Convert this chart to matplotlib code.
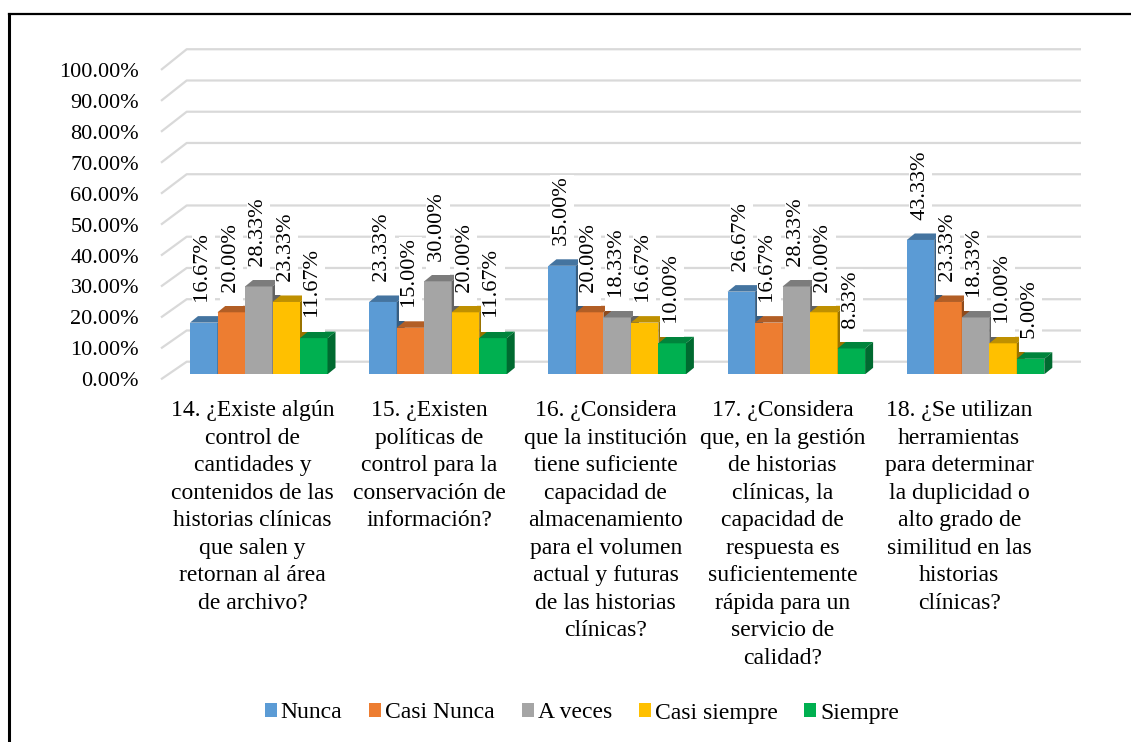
import matplotlib
matplotlib.use("Agg")
import matplotlib.pyplot as plt
from matplotlib.patches import Polygon, Patch
from matplotlib.lines import Line2D
from matplotlib.colors import to_rgb

plt.rcParams['font.family'] = ['Liberation Serif', 'DejaVu Serif']

# ---- data -------------------------------------------------------------
categories = [
    "14. ¿Existe algún\ncontrol de\ncantidades y\ncontenidos de las\nhistorias clínicas\nque salen y\nretornan al área\nde archivo?",
    "15. ¿Existen\npolíticas de\ncontrol para la\nconservación de\ninformación?",
    "16. ¿Considera\nque la institución\ntiene suficiente\ncapacidad de\nalmacenamiento\npara el volumen\nactual y futuras\nde las historias\nclínicas?",
    "17. ¿Considera\nque, en la gestión\nde historias\nclínicas, la\ncapacidad de\nrespuesta es\nsuficientemente\nrápida para un\nservicio de\ncalidad?",
    "18. ¿Se utilizan\nherramientas\npara determinar\nla duplicidad o\nalto grado de\nsimilitud en las\nhistorias\nclínicas?",
]
series_names = ["Nunca", "Casi Nunca", "A veces", "Casi siempre", "Siempre"]
nunca = [16.67, 23.33, 35.00, 26.67, 43.33]
casi_nunca = [20.00, 15.00, 20.00, 16.67, 23.33]
a_veces = [28.33, 30.00, 18.33, 28.33, 18.33]
casi_siempre = [23.33, 20.00, 16.67, 20.00, 10.00]
siempre = [11.67, 11.67, 10.00, 8.33, 5.00]
y_ticks = [0, 10, 20, 30, 40, 50, 60, 70, 80, 90, 100]
colors = ["#5B9BD5", "#ED7D31", "#A5A5A5", "#FFC000", "#00B050"]

series = [nunca, casi_nunca, a_veces, casi_siempre, siempre]


def shade(c, f):
    r, g, b = to_rgb(c)
    return (r * f, g * f, b * f)


# ---- figure / axes ----------------------------------------------------
W, H = 1131, 742
fig = plt.figure(figsize=(W / 100, H / 100), dpi=100)
fig.patch.set_facecolor("white")

# pixel geometry of the plot area
grp0_px, grp_step_px = 258.75, 179.2
base_px, px_per_pct = 374.3, 3.1
xlo, xhi = -0.6, 4.65
left_px = grp0_px + grp_step_px * xlo
right_px = grp0_px + grp_step_px * xhi
ax = fig.add_axes([left_px / W, (H - base_px) / H,
                   (right_px - left_px) / W, 100 * px_per_pct / H])
ax.set_xlim(xlo, xhi)
ax.set_ylim(0, 100)
ax.axis("off")

# 3-D depth offsets (data units)
dx = 8.0 / grp_step_px
dy = 6.5 / px_per_pct
bw = 27.5 / grp_step_px

# wall gridlines: short diagonal on the side wall + horizontal on the back wall
x_front = (161 - grp0_px) / grp_step_px
x_back = (186.7 - grp0_px) / grp_step_px
x_right = (1081 - grp0_px) / grp_step_px
for v in y_ticks:
    yf = v * 0.998 - 1.61
    yb = v * 1.008 + 4.06
    ax.plot([x_front, x_back, x_right], [yf, yb, yb], color="#D9D9D9",
            lw=1.6, clip_on=False, zorder=1, solid_capstyle="butt")
    ax.text((139 - grp0_px) / grp_step_px, yf, f"{v:.2f}%", ha="right",
            va="center_baseline", fontsize=16, color="black", clip_on=False)

# bars with top and side faces
n_cat = len(categories)
for i in range(n_cat):
    for k, vals in enumerate(series):
        v = vals[i]
        x0 = i - 2.5 * bw + k * bw
        z = 3 + 3 * k
        ax.bar(x0, v, width=bw, align="edge", color=colors[k], lw=0,
               zorder=z)
        top = Polygon([(x0, v), (x0 + dx, v + dy), (x0 + bw + dx, v + dy),
                       (x0 + bw, v)], closed=True, facecolor=shade(colors[k], 0.75),
                      lw=0, zorder=z + 1)
        side = Polygon([(x0 + bw, 0), (x0 + bw + dx, dy), (x0 + bw + dx, v + dy),
                        (x0 + bw, v)], closed=True, facecolor=shade(colors[k], 0.6),
                       lw=0, zorder=z + 2)
        ax.add_patch(top)
        ax.add_patch(side)
        ax.annotate(f"  {v:.2f}%", xy=(x0 + bw / 2, v), xytext=(0, 6.3),
                    textcoords="offset points", rotation=90, ha="center",
                    va="bottom", fontsize=16, color="black", zorder=40,
                    annotation_clip=False,
                    bbox=dict(boxstyle="square,pad=0.1", fc="white", ec="none"))

# category labels under each group
for i, lab in enumerate(categories):
    ax.text(i * 0.986 - 0.035, (base_px - 400) / px_per_pct, lab, ha="center",
            va="top", multialignment="center", fontsize=17, linespacing=1.41,
            clip_on=False)

# legend
handles = [Patch(facecolor=c, edgecolor="none") for c in colors]
fig.legend(handles, series_names, loc="center", bbox_to_anchor=(582 / W, 1 - 713 / H),
           ncol=5, frameon=False, fontsize=17, handlelength=0.5, handleheight=0.5,
           handletextpad=0.17, columnspacing=1.14, borderaxespad=0)

# outer frame (left and top edges visible)
fig.add_artist(Line2D([8.7 / W, 8.7 / W], [0, 1 - 14.3 / H], color="black", lw=2.2,
                      transform=fig.transFigure, solid_capstyle="projecting"))
fig.add_artist(Line2D([8.7 / W, 1], [1 - 14.3 / H, 1 - 14.3 / H], color="black", lw=1.6,
                      transform=fig.transFigure, solid_capstyle="projecting"))

fig.savefig("out.png", dpi=100)
